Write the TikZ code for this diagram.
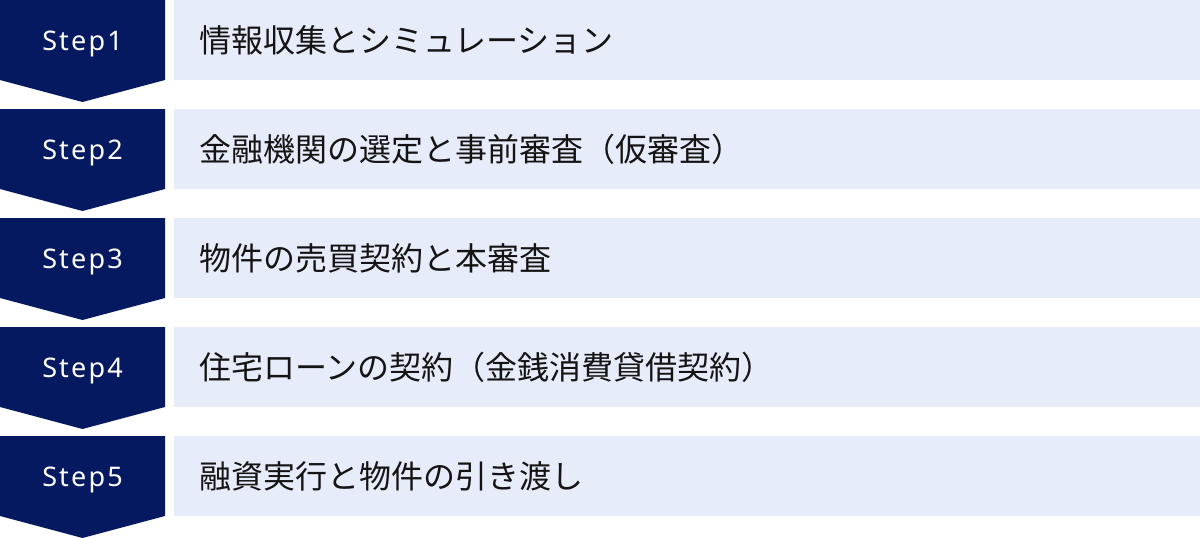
\documentclass[tikz,border=0pt]{standalone}
\usepackage{fontspec}
\usetikzlibrary{calc}
\usetikzlibrary{positioning}
\newfontfamily\jpfont{Noto Sans CJK JP}
\newfontfamily\stepfont[LetterSpace=8]{Noto Sans}
\definecolor{stepnavy}{RGB}{5,25,97}
\definecolor{steppale}{RGB}{230,236,249}
\definecolor{steptextcol}{RGB}{20,20,20}

\begin{document}
\begin{tikzpicture}[
  x=1pt, y=-1pt,
  stepmark/.style = {fill=stepnavy},
  stepband/.style = {fill=steppale},
  steplabel/.style = {text=white, anchor=base, inner sep=0pt, font=\stepfont\fontsize{27}{27}\selectfont},
  steptext/.style = {text=steptextcol, anchor=base west, inner sep=0pt, font=\jpfont\fontsize{32}{32}\selectfont}
  ]
	\useasboundingbox (0,0) rectangle (1200,538);

	\foreach \i/\txt in {1/情報収集とシミュレーション,
	                     2/金融機関の選定と事前審査（仮審査）,
	                     3/物件の売買契約と本審査,
	                     4/住宅ローンの契約（金銭消費貸借契約）,
	                     5/融資実行と物件の引き渡し} {
		\coordinate (@\i) at (0,{(\i-1)*109});

		\fill[stepmark] (@\i) -- ++(165,0) -- ++(0,80) -- ++(-82.5,22) -- ++(-82.5,-22) -- cycle;
		\fill[stepband] ($(@\i)+(174,0)$) rectangle ++(1026,80);

		\node[steplabel] (step\i) at ($(@\i)+(82.5,50)$) {Step\i};
		\node[steptext] (text\i) at ($(@\i)+(199,52.5)$) {\txt};
	}

\end{tikzpicture}
\end{document}
